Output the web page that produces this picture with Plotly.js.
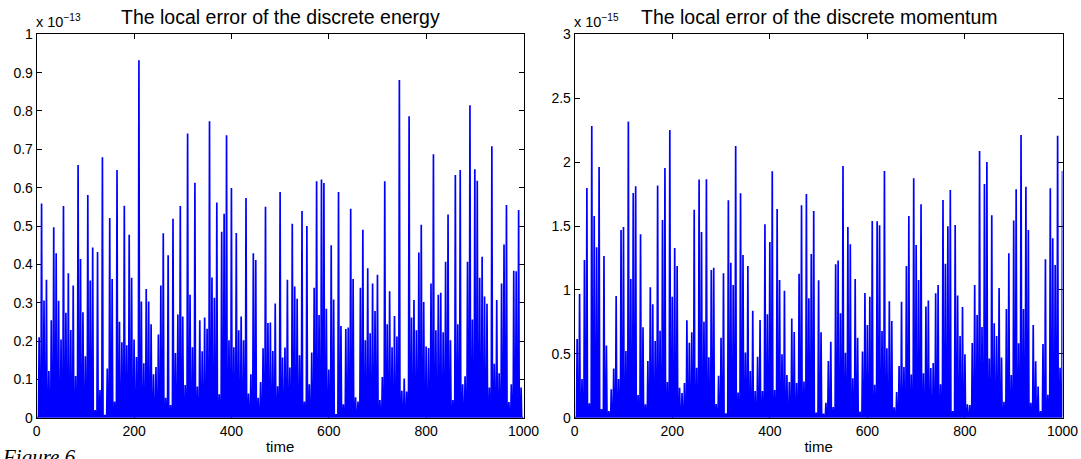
<!DOCTYPE html>
<html><head><meta charset="utf-8">
<script src="https://cdn.plot.ly/plotly-3.0.1.min.js"></script>
<style>html,body{margin:0;padding:0;background:#fff;}#chart{width:1081px;height:459px;}</style>
</head><body><div id="chart"></div>
<script>
// spikes every 5 time units
const spikeStep = 5;
// local error of the discrete energy, in units of 1e-13, at t = 5, 10, ..., 995
const energyError = [
0.210,0.559,0.306,0.360,0.122,0.254,0.497,0.429,0.305,0.204,
0.552,0.274,0.377,0.229,0.345,0.109,0.659,0.414,0.275,0.160,
0.581,0.358,0.444,0.020,0.432,0.072,0.679,0.007,0.128,0.521,
0.362,0.042,0.646,0.250,0.197,0.553,0.189,0.477,0.365,0.204,
0.158,0.932,0.303,0.142,0.336,0.303,0.244,0.113,0.132,0.217,
0.345,0.481,0.052,0.424,0.033,0.519,0.169,0.269,0.552,0.264,
0.085,0.741,0.321,0.184,0.613,0.081,0.254,0.173,0.261,0.232,
0.773,0.366,0.313,0.561,0.061,0.485,0.532,0.737,0.202,0.599,
0.184,0.482,0.228,0.264,0.202,0.573,0.063,0.113,0.429,0.411,
0.052,0.093,0.181,0.550,0.247,0.248,0.174,0.298,0.082,0.589,
0.157,0.183,0.360,0.131,0.506,0.342,0.310,0.163,0.539,0.042,
0.500,0.087,0.170,0.339,0.617,0.268,0.621,0.612,0.284,0.126,
0.450,0.308,0.009,0.589,0.239,0.035,0.231,0.235,0.545,0.362,
0.053,0.042,0.339,0.490,0.202,0.390,0.220,0.350,0.278,0.373,
0.046,0.106,0.617,0.244,0.330,0.184,0.265,0.212,0.881,0.070,
0.102,0.068,0.786,0.261,0.307,0.228,0.431,0.503,0.302,0.186,
0.182,0.350,0.687,0.228,0.321,0.326,0.223,0.407,0.530,0.202,
0.046,0.633,0.244,0.646,0.087,0.108,0.407,0.815,0.256,0.648,
0.618,0.365,0.420,0.316,0.297,0.079,0.708,0.141,0.307,0.116,
0.350,0.452,0.555,0.041,0.087,0.383,0.382,0.542,0.079];
// local error of the discrete momentum, in units of 1e-15, at t = 5, 10, ..., 1000
const momentumError = [
0.616,0.968,0.303,1.234,1.798,0.112,2.283,1.578,1.333,1.962,
0.068,1.265,0.564,0.052,0.222,0.384,0.952,0.303,1.469,1.492,
0.522,2.317,1.085,1.758,1.811,0.177,1.435,0.707,0.104,0.444,
1.020,0.887,0.600,1.816,0.681,1.547,1.954,0.279,2.252,0.947,
1.328,1.187,0.235,0.193,0.271,0.762,0.587,0.668,1.628,0.391,
1.863,1.453,0.751,1.865,0.472,1.156,1.174,0.107,0.329,0.626,
1.130,0.034,1.701,1.213,1.038,2.126,0.198,1.756,1.273,0.511,
1.187,0.365,0.837,0.209,0.477,0.764,0.209,1.513,0.809,1.375,
1.928,0.217,1.633,1.077,0.496,0.994,0.334,0.279,0.777,0.670,
0.271,1.127,1.662,0.284,1.751,0.934,1.281,1.618,0.039,1.075,
0.668,0.031,0.117,0.444,0.595,0.083,1.200,1.231,0.817,1.970,
0.509,1.492,1.357,0.308,1.085,0.626,0.047,0.517,0.976,0.725,
0.947,1.539,0.258,1.537,1.505,0.678,1.931,0.543,0.911,0.757,
0.081,0.201,0.404,0.908,0.397,1.187,1.578,0.337,1.873,1.351,
1.077,1.670,0.347,0.871,0.918,0.389,0.428,0.973,1.038,0.261,
1.704,1.205,1.498,1.782,0.052,1.508,0.957,0.639,0.866,0.496,
0.104,0.099,0.584,1.038,0.804,2.087,0.710,1.829,2.001,0.464,
1.584,0.738,0.639,1.015,0.470,0.125,0.851,1.286,0.334,1.544,
1.787,0.582,2.212,0.851,1.808,1.469,0.117,0.725,0.441,0.243,
0.052,0.577,1.239,0.180,1.795,1.404,1.195,2.207,0.391,1.931];
const xTickVals = [0,200,400,600,800,1000];
const xTickText = ['0','200','400','600','800','1000'];
const energyTickVals = [0,0.1,0.2,0.3,0.4,0.5,0.6,0.7,0.8,0.9,1];
const energyTickText = ['0','0.1','0.2','0.3','0.4','0.5','0.6','0.7','0.8','0.9','1'];
const momentumTickVals = [0,0.5,1,1.5,2,2.5,3];
const momentumTickText = ['0','0.5','1','1.5','2','2.5','3'];
const titles = ['The local error of the discrete energy','The local error of the discrete momentum'];
const xLabel = 'time';

// line through each spike; the error falls back to the zero baseline right before and after each spike
const halfBase = 1.25;
function spikeLine(vals){
  const x=[0], y=[0];
  vals.forEach((v,i)=>{
    const t=(i+1)*spikeStep;
    x.push(t-halfBase); y.push(0);
    x.push(t); y.push(v);
    if (t+halfBase <= 1000){ x.push(t+halfBase); y.push(0); }
  });
  const last = vals.length*spikeStep;
  if (last < 1000){ x.push(1000); y.push(0); }
  return {x,y};
}

const FONT = 'Liberation Sans, Arial, Helvetica, sans-serif';
const e = spikeLine(energyError), m = spikeLine(momentumError);
const lineStyle = {color:'#0000ff', width:1.7};
const traces = [
  {type:'scatter', mode:'lines', x:e.x, y:e.y, xaxis:'x', yaxis:'y', line:lineStyle, hoverinfo:'skip'},
  {type:'scatter', mode:'lines', x:m.x, y:m.y, xaxis:'x2', yaxis:'y2', line:lineStyle, hoverinfo:'skip'}
];

function xAxis(domain, anchor){
  return {domain, anchor, range:[0,1000], tickvals:xTickVals, ticktext:xTickText,
    ticks:'inside', ticklen:5, tickwidth:1, tickcolor:'#000', showline:true, linecolor:'#000', linewidth:1,
    mirror:'ticks', showgrid:false, zeroline:false, fixedrange:true, layer:'below traces',
    tickfont:{family:FONT, size:14, color:'#000'},
    title:{text:xLabel, font:{family:FONT, size:15, color:'#000'}, standoff:3}};
}
function yAxis(domain, anchor, range, vals, text){
  return {domain, anchor, range, tickvals:vals, ticktext:text,
    ticks:'inside', ticklen:5, tickwidth:1, tickcolor:'#000', showline:true, linecolor:'#000', linewidth:1,
    mirror:'ticks', showgrid:false, zeroline:false, fixedrange:true, layer:'below traces',
    tickfont:{family:FONT, size:14, color:'#000'}};
}
const W=1081, H=459;
const yDom = [1-417.7/H, 1-34.3/H];
const layout = {
  width:W, height:H, margin:{l:0,r:0,t:0,b:0}, paper_bgcolor:'#fff', plot_bgcolor:'#fff', showlegend:false,
  xaxis: xAxis([36.7/W, 523.5/W], 'y'),
  yaxis: yAxis(yDom, 'x', [0,1], energyTickVals, energyTickText),
  xaxis2: xAxis([574.7/W, 1062.5/W], 'y2'),
  yaxis2: yAxis(yDom, 'x2', [0,3], momentumTickVals, momentumTickText),
  annotations:[
    {xref:'paper', yref:'paper', x:280/W, y:1-17/H, xanchor:'center', yanchor:'middle', showarrow:false,
     text:titles[0], font:{family:FONT, size:19.5, color:'#000'}},
    {xref:'paper', yref:'paper', x:819/W, y:1-17/H, xanchor:'center', yanchor:'middle', showarrow:false,
     text:titles[1], font:{family:FONT, size:19.5, color:'#000'}},
    {xref:'paper', yref:'paper', x:34/W, y:1-32/H, xanchor:'left', yanchor:'bottom', showarrow:false,
     text:'x 10<sup>\u221213</sup>', font:{family:FONT, size:14.5, color:'#000'}},
    {xref:'paper', yref:'paper', x:572/W, y:1-32/H, xanchor:'left', yanchor:'bottom', showarrow:false,
     text:'x 10<sup>\u221215</sup>', font:{family:FONT, size:14.5, color:'#000'}},
    {xref:'paper', yref:'paper', x:0, y:1-443/H, xanchor:'left', yanchor:'top', showarrow:false,
     text:'Figure 6.', font:{family:'Liberation Serif, Times New Roman, serif', size:21, color:'#000', style:'italic'}}
  ]
};
Plotly.newPlot('chart', traces, layout, {staticPlot:true, displayModeBar:false});
</script>
</body></html>
